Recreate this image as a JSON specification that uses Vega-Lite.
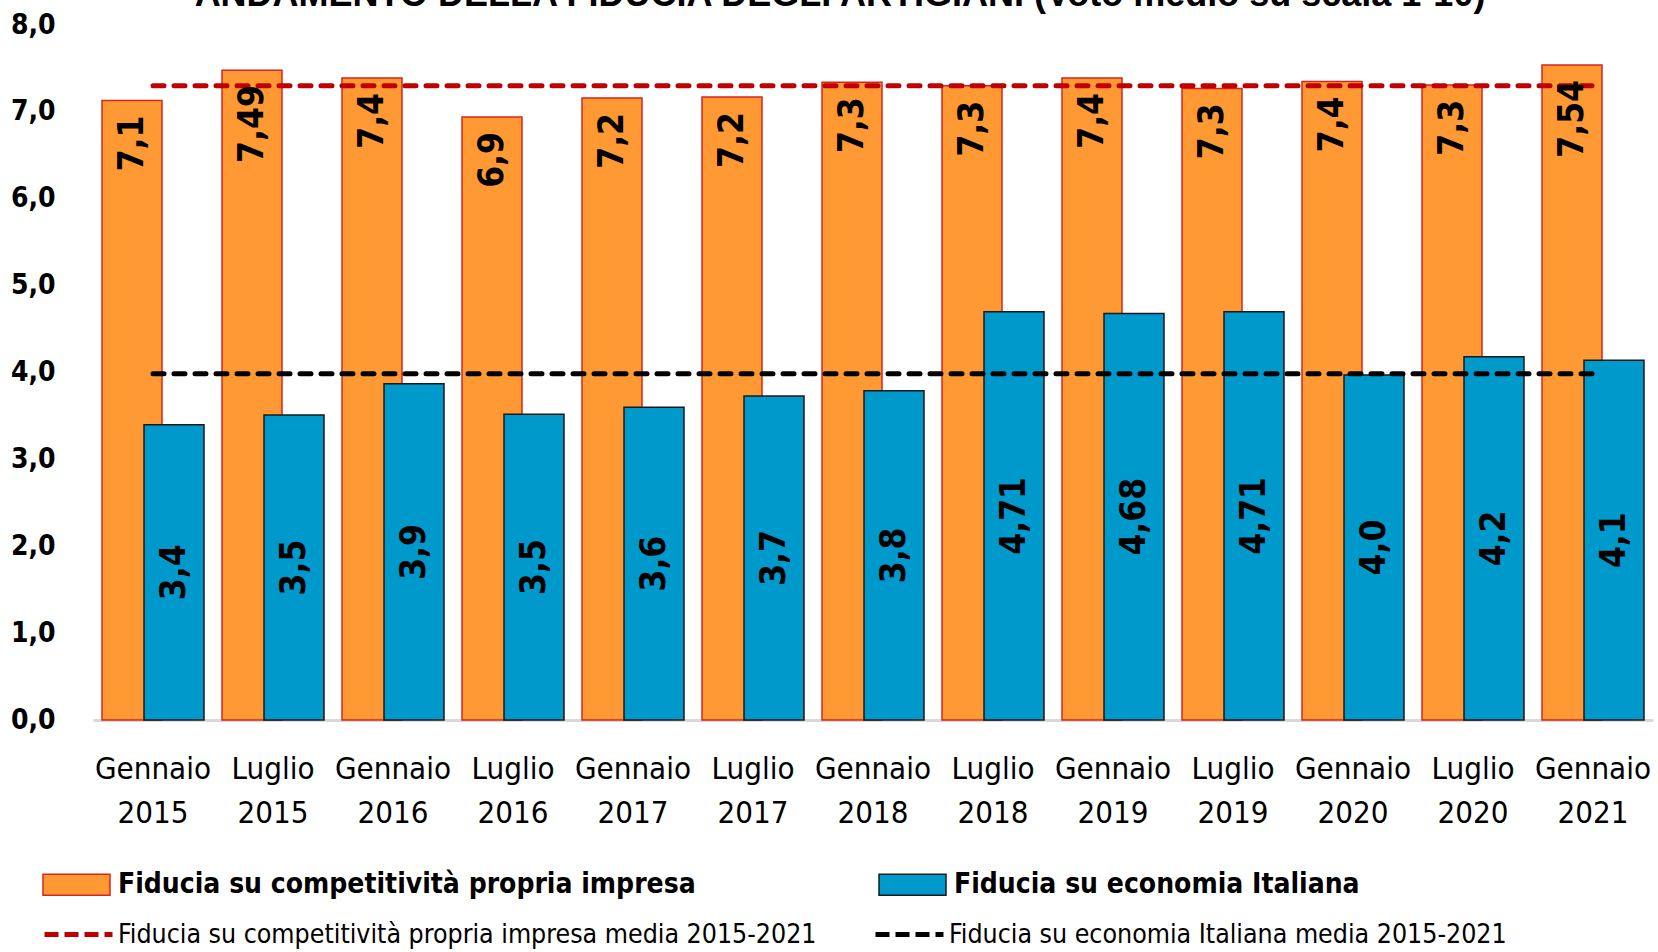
{
  "$schema": "https://vega.github.io/schema/vega-lite/v6.json",
  "width": 1560,
  "height": 695,
  "autosize": {"type": "none"},
  "padding": {"left": 93, "top": 25, "right": 5, "bottom": 232},
  "background": "white",
  "config": {"view": {"stroke": null}},
  "title": {
    "text": "ANDAMENTO DELLA FIDUCIA DEGLI ARTIGIANI (Voto medio su scala 1-10)",
    "font": "Liberation Sans",
    "fontWeight": "bold",
    "fontSize": 36,
    "color": "black",
    "anchor": "middle",
    "offset": -3,
    "dx": -33
  },
  "datasets": {
    "fiducia": [
      {"periodo": "Gennaio 2015", "imp": 7.13, "imp_etichetta": "7,1", "eco": 3.40, "eco_etichetta": "3,4"},
      {"periodo": "Luglio 2015", "imp": 7.48, "imp_etichetta": "7,49", "eco": 3.51, "eco_etichetta": "3,5"},
      {"periodo": "Gennaio 2016", "imp": 7.39, "imp_etichetta": "7,4", "eco": 3.87, "eco_etichetta": "3,9"},
      {"periodo": "Luglio 2016", "imp": 6.94, "imp_etichetta": "6,9", "eco": 3.52, "eco_etichetta": "3,5"},
      {"periodo": "Gennaio 2017", "imp": 7.16, "imp_etichetta": "7,2", "eco": 3.60, "eco_etichetta": "3,6"},
      {"periodo": "Luglio 2017", "imp": 7.17, "imp_etichetta": "7,2", "eco": 3.73, "eco_etichetta": "3,7"},
      {"periodo": "Gennaio 2018", "imp": 7.34, "imp_etichetta": "7,3", "eco": 3.79, "eco_etichetta": "3,8"},
      {"periodo": "Luglio 2018", "imp": 7.30, "imp_etichetta": "7,3", "eco": 4.70, "eco_etichetta": "4,71"},
      {"periodo": "Gennaio 2019", "imp": 7.39, "imp_etichetta": "7,4", "eco": 4.68, "eco_etichetta": "4,68"},
      {"periodo": "Luglio 2019", "imp": 7.27, "imp_etichetta": "7,3", "eco": 4.70, "eco_etichetta": "4,71"},
      {"periodo": "Gennaio 2020", "imp": 7.35, "imp_etichetta": "7,4", "eco": 3.97, "eco_etichetta": "4,0"},
      {"periodo": "Luglio 2020", "imp": 7.31, "imp_etichetta": "7,3", "eco": 4.18, "eco_etichetta": "4,2"},
      {"periodo": "Gennaio 2021", "imp": 7.54, "imp_etichetta": "7,54", "eco": 4.14, "eco_etichetta": "4,1"}
    ],
    "medie": [
      {"periodo": "Gennaio 2015", "serie": "Fiducia su competitività propria impresa media 2015-2021", "media": 7.30},
      {"periodo": "Gennaio 2021", "serie": "Fiducia su competitività propria impresa media 2015-2021", "media": 7.30},
      {"periodo": "Gennaio 2015", "serie": "Fiducia su economia Italiana  media 2015-2021", "media": 3.985},
      {"periodo": "Gennaio 2021", "serie": "Fiducia su economia Italiana  media 2015-2021", "media": 3.985}
    ]
  },
  "encoding": {
    "x": {
      "field": "periodo",
      "type": "nominal",
      "scale": {
        "domain": ["Gennaio 2015", "Luglio 2015", "Gennaio 2016", "Luglio 2016", "Gennaio 2017", "Luglio 2017", "Gennaio 2018", "Luglio 2018", "Gennaio 2019", "Luglio 2019", "Gennaio 2020", "Luglio 2020", "Gennaio 2021"],
        "paddingInner": 0,
        "paddingOuter": 0
      },
      "axis": {
        "title": null,
        "labelExpr": "split(datum.label, ' ')",
        "labelAngle": 0,
        "labelFont": "DejaVu Sans Condensed",
        "labelFontSize": 31,
        "labelColor": "black",
        "labelLineHeight": 44,
        "labelPadding": 34,
        "labelBaseline": "top",
        "ticks": false,
        "tickSize": 0,
        "grid": false,
        "domainColor": "#d9d9d9",
        "domainWidth": 3
      }
    }
  },
  "layer": [
    {
      "data": {"name": "fiducia"},
      "mark": {"type": "bar", "width": {"band": 0.5}, "xOffset": -21},
      "encoding": {
        "y": {
          "field": "imp",
          "type": "quantitative",
          "scale": {"domain": [0, 8], "nice": false},
          "axis": {
            "title": null,
            "values": [0, 1, 2, 3, 4, 5, 6, 7, 8],
            "labelExpr": "replace(format(datum.value, '.1f'), '.', ',')",
            "labelFont": "DejaVu Sans Condensed",
            "labelFontWeight": "bold",
            "labelFontSize": 28,
            "labelColor": "black",
            "labelPadding": 38,
            "ticks": false,
            "domain": false,
            "grid": false
          }
        },
        "fill": {
          "datum": "Fiducia su competitività propria impresa",
          "type": "nominal",
          "scale": {
            "domain": ["Fiducia su competitività propria impresa", "Fiducia su economia Italiana"],
            "range": ["#FF9933", "#0099CC"]
          },
          "legend": {
            "title": null,
            "orient": "none",
            "legendX": -51,
            "legendY": 825,
            "direction": "horizontal",
            "columns": 2,
            "columnPadding": 180,
            "padding": 0,
            "symbolType": "M-1,-0.31H1V0.31H-1Z",
            "symbolSize": 4489,
            "symbolStrokeWidth": 1.5,
            "symbolOpacity": 1,
            "labelFont": "DejaVu Sans Condensed",
            "labelFontWeight": "bold",
            "labelFontSize": 28,
            "labelColor": "black",
            "labelLimit": 1000,
            "labelOffset": 7,
            "encode": {
              "symbols": {
                "enter": {
                  "stroke": {"signal": "indexof(datum.label, 'economia') >= 0 ? '#1a1a1a' : '#D7261E'"},
                  "strokeWidth": {"value": 1.5}
                },
                "update": {
                  "stroke": {"signal": "indexof(datum.label, 'economia') >= 0 ? '#1a1a1a' : '#D7261E'"},
                  "strokeWidth": {"value": 1.5}
                }
              }
            }
          }
        }
      }
    },
    {
      "data": {"name": "fiducia"},
      "mark": {"type": "bar", "width": {"band": 0.5}, "xOffset": -21, "fill": "transparent", "stroke": "#D7261E", "strokeWidth": 1.5},
      "encoding": {
        "y": {"field": "imp", "type": "quantitative", "scale": {"domain": [0, 8], "nice": false}, "axis": null}
      }
    },
    {
      "data": {"name": "fiducia"},
      "mark": {"type": "bar", "width": {"band": 0.5}, "xOffset": 21, "stroke": "#1a1a1a", "strokeWidth": 1.5},
      "encoding": {
        "y": {"field": "eco", "type": "quantitative", "scale": {"domain": [0, 8], "nice": false}, "axis": null},
        "fill": {"datum": "Fiducia su economia Italiana", "type": "nominal"}
      }
    },
    {
      "data": {"name": "medie"},
      "mark": {"type": "line", "strokeDash": [11, 10], "strokeWidth": 5, "strokeCap": "round"},
      "encoding": {
        "y": {"field": "media", "type": "quantitative", "scale": {"domain": [0, 8], "nice": false}, "axis": null},
        "stroke": {
          "field": "serie",
          "type": "nominal",
          "scale": {
            "domain": ["Fiducia su competitività propria impresa media 2015-2021", "Fiducia su economia Italiana  media 2015-2021"],
            "range": ["#C00000", "#000000"]
          },
          "legend": {
            "title": null,
            "orient": "none",
            "legendX": -51,
            "legendY": 873,
            "direction": "horizontal",
            "columns": 2,
            "columnPadding": 48,
            "padding": 0,
            "symbolType": "stroke",
            "symbolSize": 4624,
            "symbolStrokeWidth": 5,
            "symbolDash": [14, 6],
            "labelFont": "DejaVu Sans Condensed",
            "labelFontSize": 26.5,
            "labelColor": "black",
            "labelLimit": 1000,
            "labelOffset": 3
          }
        }
      }
    },
    {
      "data": {"name": "fiducia"},
      "mark": {"type": "text", "angle": 270, "align": "right", "baseline": "middle", "xOffset": -21, "yOffset": 15, "font": "DejaVu Sans Condensed", "fontWeight": "bold", "fontSize": 35, "color": "black"},
      "encoding": {
        "y": {"field": "imp", "type": "quantitative", "scale": {"domain": [0, 8], "nice": false}, "axis": null},
        "text": {"field": "imp_etichetta"}
      }
    },
    {
      "data": {"name": "fiducia"},
      "mark": {"type": "text", "angle": 270, "align": "center", "baseline": "middle", "xOffset": 21, "font": "DejaVu Sans Condensed", "fontWeight": "bold", "fontSize": 35, "color": "black"},
      "encoding": {
        "y": {"field": "eco", "type": "quantitative", "scale": {"domain": [0, 16], "nice": false}, "axis": null},
        "text": {"field": "eco_etichetta"}
      }
    }
  ],
  "resolve": {"scale": {"y": "independent"}}
}
